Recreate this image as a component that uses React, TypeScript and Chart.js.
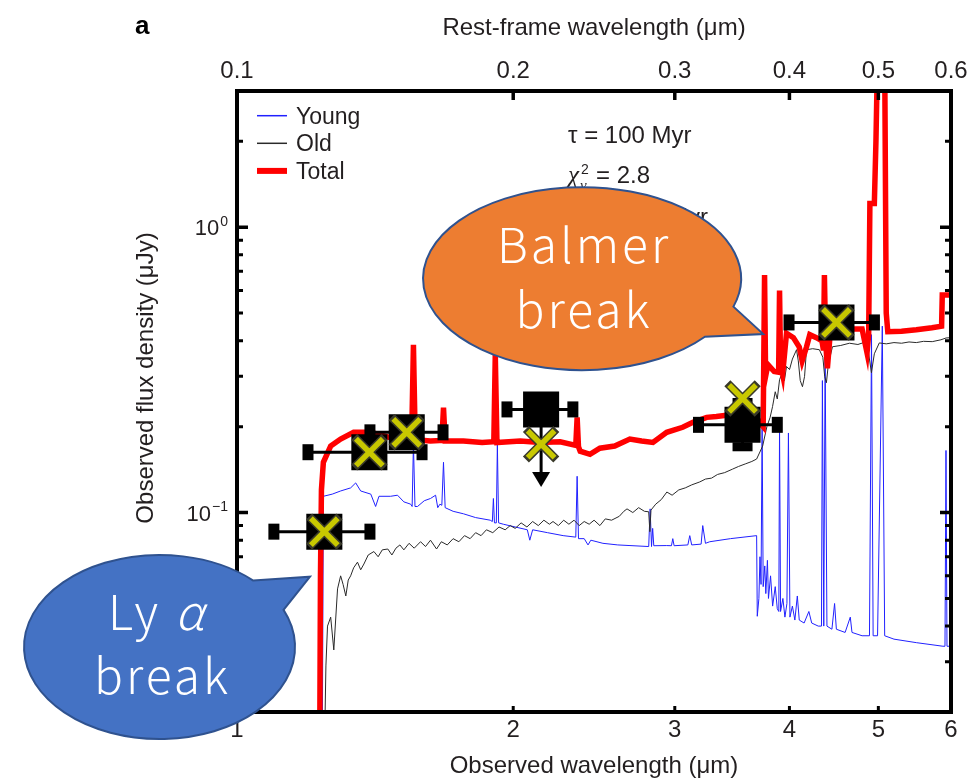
import React, { useEffect, useRef } from 'react';
import { Chart, registerables } from 'chart.js';

Chart.register(...registerables);

const SANS = "'Liberation Sans', Arial, Helvetica, sans-serif";
const SERIF = "'Liberation Serif', 'Times New Roman', serif";
const JP = "'Noto Sans CJK JP', 'Noto Sans', sans-serif";
const INK = '#231f20';

// ---- axes ----
const xTickValues = [1, 2, 3, 4, 5, 6];
const restTickValues = [0.1, 0.2, 0.3, 0.4, 0.5, 0.6];
const yMajorValues = [0.1, 1];
const yMajorExponents = ['\u22121', '0'];
const yMinorValues = [0.03, 0.04, 0.05, 0.06, 0.07, 0.08, 0.09, 0.2, 0.3, 0.4, 0.5, 0.6, 0.7, 0.8, 0.9, 2];

// ---- model spectra: [observed wavelength (um), flux density (uJy)] ----
const youngSpectrum: [number, number][] = [
  [1.238, 0.010], [1.242, 0.114], [1.270, 0.116], [1.297, 0.119], [1.330, 0.122], [1.347, 0.127],
  [1.364, 0.119], [1.399, 0.116], [1.416, 0.105], [1.428, 0.114], [1.470, 0.114], [1.496, 0.115],
  [1.520, 0.109], [1.546, 0.107], [1.552, 0.105], [1.557, 0.174], [1.563, 0.105], [1.573, 0.105],
  [1.600, 0.110], [1.625, 0.112], [1.646, 0.115], [1.655, 0.104], [1.664, 0.107], [1.672, 0.106],
  [1.679, 0.150], [1.686, 0.104], [1.720, 0.101], [1.765, 0.099], [1.820, 0.096], [1.888, 0.094],
  [1.898, 0.093], [1.903, 0.112], [1.908, 0.092], [1.917, 0.092], [1.922, 0.174], [1.928, 0.092],
  [1.951, 0.091], [2.010, 0.089], [2.072, 0.087], [2.085, 0.080], [2.100, 0.087], [2.180, 0.085],
  [2.267, 0.083], [2.340, 0.082], [2.348, 0.134], [2.356, 0.081], [2.390, 0.081], [2.413, 0.077],
  [2.430, 0.080], [2.505, 0.078], [2.600, 0.077], [2.681, 0.0766], [2.810, 0.0760], [2.820, 0.103],
  [2.830, 0.0760], [2.838, 0.088], [2.846, 0.0765], [2.940, 0.0766], [2.975, 0.0765], [2.985, 0.081],
  [2.995, 0.0765], [3.100, 0.0770], [3.115, 0.083], [3.130, 0.0770], [3.205, 0.0775], [3.218, 0.090],
  [3.240, 0.0780], [3.275, 0.0790], [3.450, 0.0810], [3.684, 0.0830], [3.690, 0.0433], [3.705, 0.050],
  [3.715, 0.070], [3.725, 0.056], [3.735, 0.200], [3.745, 0.055], [3.760, 0.065], [3.770, 0.052],
  [3.785, 0.068], [3.795, 0.050], [3.815, 0.060], [3.835, 0.047], [3.860, 0.055], [3.880, 0.046],
  [3.895, 0.045], [3.902, 0.200], [3.912, 0.045], [3.935, 0.050], [3.955, 0.043], [3.975, 0.048],
  [3.990, 0.190], [4.005, 0.043], [4.030, 0.047], [4.055, 0.042], [4.080, 0.051], [4.100, 0.042],
  [4.150, 0.041], [4.200, 0.045], [4.230, 0.041], [4.300, 0.040], [4.335, 0.040], [4.345, 0.290],
  [4.360, 0.040], [4.375, 0.350], [4.395, 0.040], [4.450, 0.039], [4.480, 0.048], [4.500, 0.039],
  [4.600, 0.038], [4.660, 0.043], [4.680, 0.038], [4.800, 0.037], [4.890, 0.037], [4.915, 0.420],
  [4.935, 0.037], [4.990, 0.037], [5.050, 0.450], [5.080, 0.037], [5.200, 0.036], [5.500, 0.035],
  [5.880, 0.034], [5.910, 0.034], [5.925, 0.165], [5.940, 0.034], [6.000, 0.034],
];

const oldSpectrum: [number, number][] = [
  [1.243, 0.010], [1.250, 0.029], [1.255, 0.040], [1.265, 0.043], [1.275, 0.033], [1.287, 0.054],
  [1.297, 0.060], [1.305, 0.056], [1.314, 0.051], [1.322, 0.058], [1.330, 0.060], [1.340, 0.064],
  [1.353, 0.067], [1.364, 0.063], [1.375, 0.066], [1.390, 0.071], [1.410, 0.073], [1.425, 0.070],
  [1.440, 0.074], [1.460, 0.0745], [1.475, 0.071], [1.490, 0.075], [1.505, 0.077], [1.520, 0.074],
  [1.540, 0.078], [1.560, 0.075], [1.585, 0.079], [1.605, 0.076], [1.625, 0.080], [1.650, 0.0745],
  [1.670, 0.079], [1.695, 0.077], [1.720, 0.081], [1.745, 0.079], [1.770, 0.083], [1.795, 0.081],
  [1.820, 0.085], [1.845, 0.083], [1.870, 0.087], [1.900, 0.085], [1.930, 0.089], [1.960, 0.087],
  [1.985, 0.090], [2.010, 0.088], [2.040, 0.092], [2.070, 0.089], [2.100, 0.093], [2.130, 0.090],
  [2.160, 0.094], [2.190, 0.091], [2.210, 0.093], [2.240, 0.090], [2.270, 0.094], [2.300, 0.091],
  [2.330, 0.094], [2.360, 0.090], [2.390, 0.093], [2.420, 0.091], [2.450, 0.094], [2.486, 0.090],
  [2.520, 0.095], [2.560, 0.094], [2.610, 0.097], [2.640, 0.101], [2.661, 0.103], [2.700, 0.100],
  [2.740, 0.104], [2.780, 0.101], [2.810, 0.1006], [2.818, 0.0857], [2.826, 0.102], [2.860, 0.107],
  [2.900, 0.111], [2.941, 0.118], [2.980, 0.115], [3.030, 0.120], [3.080, 0.122], [3.130, 0.125],
  [3.194, 0.128], [3.240, 0.131], [3.290, 0.132], [3.340, 0.136], [3.400, 0.138], [3.469, 0.142],
  [3.520, 0.145], [3.580, 0.148], [3.640, 0.151], [3.684, 0.154], [3.740, 0.171], [3.780, 0.200],
  [3.810, 0.215], [3.834, 0.235], [3.860, 0.265], [3.880, 0.250], [3.902, 0.292], [3.930, 0.310],
  [3.950, 0.290], [3.971, 0.325], [4.001, 0.317], [4.030, 0.345], [4.072, 0.372], [4.090, 0.340],
  [4.110, 0.290], [4.133, 0.276], [4.155, 0.300], [4.175, 0.372], [4.240, 0.375], [4.312, 0.372],
  [4.350, 0.350], [4.370, 0.300], [4.389, 0.285], [4.410, 0.330], [4.456, 0.381], [4.550, 0.385],
  [4.650, 0.392], [4.750, 0.388], [4.852, 0.397], [4.880, 0.360], [4.914, 0.309], [4.950, 0.360],
  [5.012, 0.393], [5.100, 0.390], [5.200, 0.394], [5.300, 0.392], [5.400, 0.396], [5.500, 0.394],
  [5.600, 0.398], [5.724, 0.397], [5.850, 0.403], [5.927, 0.409], [6.000, 0.410],
];

const totalSpectrum: [number, number][] = [
  [1.230, 0.010], [1.233, 0.060], [1.236, 0.120], [1.242, 0.150], [1.265, 0.171], [1.297, 0.181],
  [1.340, 0.191], [1.399, 0.191], [1.460, 0.184], [1.520, 0.180], [1.550, 0.181], [1.557, 0.387],
  [1.564, 0.180], [1.625, 0.178], [1.672, 0.179], [1.679, 0.233], [1.686, 0.178], [1.765, 0.178],
  [1.850, 0.176], [1.905, 0.177], [1.912, 0.357], [1.920, 0.176], [2.036, 0.178], [2.140, 0.176],
  [2.250, 0.177], [2.340, 0.172], [2.348, 0.2155], [2.356, 0.170], [2.366, 0.164], [2.425, 0.160],
  [2.486, 0.168], [2.580, 0.171], [2.680, 0.181], [2.760, 0.178], [2.840, 0.176], [2.940, 0.191],
  [3.060, 0.199], [3.140, 0.207], [3.250, 0.2155], [3.330, 0.217], [3.470, 0.2207], [3.660, 0.221],
  [3.720, 0.205], [3.745, 0.200], [3.758, 0.680], [3.768, 0.300], [3.790, 0.330], [3.850, 0.312],
  [3.893, 0.310], [3.902, 0.600], [3.912, 0.330], [3.932, 0.305], [3.971, 0.425], [4.040, 0.410],
  [4.100, 0.380], [4.130, 0.340], [4.175, 0.380], [4.210, 0.420], [4.280, 0.410], [4.340, 0.400],
  [4.357, 0.370], [4.367, 0.680], [4.380, 0.400], [4.400, 0.320], [4.430, 0.420], [4.500, 0.440],
  [4.650, 0.440], [4.800, 0.440], [4.860, 0.363], [4.880, 0.420], [4.895, 1.210], [4.950, 1.210],
  [4.970, 2.000], [4.990, 4.000], [5.080, 4.000], [5.100, 0.500], [5.120, 0.430], [5.300, 0.432],
  [5.500, 0.437], [5.720, 0.444], [5.860, 0.450], [5.870, 0.578], [6.000, 0.578],
];

// ---- photometry ----
const bandCenter = [1.245, 1.394, 1.531, 2.145, 3.556, 4.501];
const bandLow = [1.097, 1.195, 1.396, 1.969, 3.184, 3.996];
const bandHigh = [1.396, 1.591, 1.677, 2.323, 3.880, 4.951];
const observedFlux = [0.0857, 0.1627, 0.191, 0.2298, 0.2029, 0.4636];
const observedErrLow: (number | null)[] = [null, null, null, null, 0.170, null];
const observedErrHigh: (number | null)[] = [null, null, null, null, 0.243, null];
const upperLimitTip: (number | null)[] = [null, null, null, 0.123, null, null];
const modelFlux = [0.0857, 0.1627, 0.191, 0.1735, 0.251, 0.4636];

// ---- callouts (anchored in data space: [wavelength, flux]) ----
const balmerCallout = { center: [2.377, 0.660], tip: [3.746, 0.422], rx: 159, ry: 91.5, wedge: [17.8, 39.4], fill: '#ED7D31' };
const lyaCallout = { center: [0.8233, 0.0338], tip: [1.201, 0.0596], rx: 135.5, ry: 92, wedge: [-46.2, -23.75], fill: '#4472C4' };

const toPts = (arr: [number, number][]) => arr.map(([x, y]) => ({ x, y }));

const decorPlugin = {
  id: 'decor',
  afterDatasetDraw(chart: any, args: any) {
    if (args.index !== 2) return;
    const { ctx } = chart;
    const xs = chart.scales.x;
    const ys = chart.scales.y;
    ctx.save();
    ctx.strokeStyle = '#000';
    ctx.fillStyle = '#000';
    bandCenter.forEach((c, i) => {
      const y = ys.getPixelForValue(observedFlux[i]);
      const x1 = xs.getPixelForValue(bandLow[i]);
      const x2 = xs.getPixelForValue(bandHigh[i]);
      const xc = xs.getPixelForValue(c);
      ctx.lineWidth = 3;
      ctx.beginPath();
      ctx.moveTo(x1, y);
      ctx.lineTo(x2, y);
      ctx.stroke();
      ctx.fillRect(x1 - 5.5, y - 8, 11, 16);
      ctx.fillRect(x2 - 5.5, y - 8, 11, 16);
      const lo = observedErrLow[i];
      const hi = observedErrHigh[i];
      if (lo != null && hi != null) {
        const yl = ys.getPixelForValue(lo);
        const yh = ys.getPixelForValue(hi);
        ctx.beginPath();
        ctx.moveTo(xc, yl);
        ctx.lineTo(xc, yh);
        ctx.stroke();
        ctx.fillRect(xc - 10, yl - 4.5, 20, 9);
        ctx.fillRect(xc - 10, yh - 4.5, 20, 9);
      }
      const tip = upperLimitTip[i];
      if (tip != null) {
        const yt = ys.getPixelForValue(tip);
        ctx.beginPath();
        ctx.moveTo(xc, y);
        ctx.lineTo(xc, yt - 10);
        ctx.stroke();
        ctx.beginPath();
        ctx.moveTo(xc - 9, yt - 15);
        ctx.lineTo(xc + 9, yt - 15);
        ctx.lineTo(xc, yt);
        ctx.closePath();
        ctx.fill();
      }
    });
    ctx.restore();
  },
  afterDraw(chart: any) {
    const { ctx, chartArea: ca } = chart;
    const xs = chart.scales.x;
    const x2s = chart.scales.x2;
    const ys = chart.scales.y;
    ctx.save();

    // frame
    ctx.strokeStyle = '#000';
    ctx.lineWidth = 4;
    ctx.strokeRect(ca.left, ca.top, ca.right - ca.left, ca.bottom - ca.top);

    // y ticks (inward, both sides)
    const yTick = (v: number, len: number, w: number) => {
      const p = ys.getPixelForValue(v);
      ctx.lineWidth = w;
      ctx.beginPath();
      ctx.moveTo(ca.left, p);
      ctx.lineTo(ca.left + len, p);
      ctx.moveTo(ca.right, p);
      ctx.lineTo(ca.right - len, p);
      ctx.stroke();
    };
    yMajorValues.forEach((v) => yTick(v, 11, 3.5));
    yMinorValues.forEach((v) => yTick(v, 6, 3));

    // x ticks
    xTickValues.slice(1, -1).forEach((v) => {
      const p = xs.getPixelForValue(v);
      ctx.lineWidth = 3;
      ctx.beginPath();
      ctx.moveTo(p, ca.bottom);
      ctx.lineTo(p, ca.bottom - 6);
      ctx.stroke();
    });
    restTickValues.slice(1, -1).forEach((v) => {
      const p = x2s.getPixelForValue(v);
      ctx.lineWidth = 3.5;
      ctx.beginPath();
      ctx.moveTo(p, ca.top);
      ctx.lineTo(p, ca.top + 9);
      ctx.stroke();
    });

    // y tick labels 10^n
    ctx.fillStyle = INK;
    ctx.textBaseline = 'alphabetic';
    ctx.textAlign = 'left';
    yMajorValues.forEach((v, i) => {
      const p = ys.getPixelForValue(v);
      const exp = yMajorExponents[i];
      ctx.font = `14px ${SANS}`;
      const we = ctx.measureText(exp).width;
      ctx.font = `22px ${SANS}`;
      const wb = ctx.measureText('10').width;
      const end = ca.left - 9;
      ctx.fillText('10', end - we - wb - 1, p + 8);
      ctx.font = `14px ${SANS}`;
      ctx.fillText(exp, end - we, p - 1.5);
    });

    // y title
    ctx.save();
    ctx.translate(ca.left - 91, ca.top + 287);
    ctx.rotate(-Math.PI / 2);
    ctx.textAlign = 'center';
    ctx.textBaseline = 'middle';
    ctx.font = `24px ${SANS}`;
    ctx.fillText('Observed flux density (\u03bcJy)', 0, 0);
    ctx.restore();

    // panel letter
    ctx.font = `bold 26px ${SANS}`;
    ctx.fillStyle = '#000';
    ctx.fillText('a', 135, 34);

    // legend (from datasets)
    const ds = chart.data.datasets;
    const legendWidths = [1.5, 1.5, 6];
    [0, 1, 2].forEach((k) => {
      const ly = ca.top + 24.7 + k * 27.6;
      ctx.strokeStyle = ds[k].borderColor;
      ctx.lineWidth = legendWidths[k];
      ctx.beginPath();
      ctx.moveTo(ca.left + 20, ly);
      ctx.lineTo(ca.left + 50, ly);
      ctx.stroke();
      ctx.fillStyle = INK;
      ctx.font = `23px ${SANS}`;
      ctx.textAlign = 'left';
      ctx.fillText(ds[k].label, ca.left + 59, ly + 8);
    });

    // fit parameters
    const tx = ca.left + 331;
    ctx.fillStyle = INK;
    ctx.font = `24px ${SANS}`;
    ctx.fillText('\u03c4 = 100 Myr', tx, ca.top + 52);
    ctx.font = `italic 25px ${SERIF}`;
    ctx.fillText('\u03c7', tx, ca.top + 92);
    const wc = ctx.measureText('\u03c7').width;
    ctx.font = `14px ${SANS}`;
    ctx.fillText('2', tx + wc + 2, ca.top + 83);
    ctx.font = `italic 15px ${SERIF}`;
    ctx.fillText('\u03bd', tx + wc + 1, ca.top + 99);
    ctx.font = `24px ${SANS}`;
    ctx.fillText('= 2.8', tx + wc + 17, ca.top + 92);
    ctx.textAlign = 'right';
    ctx.fillText('Age = 290 Myr', ca.left + 471, ca.top + 134);

    // callouts
    const drawCallout = (c: any) => {
      const cx = xs.getPixelForValue(c.center[0]);
      const cy = ys.getPixelForValue(c.center[1]);
      const tX = xs.getPixelForValue(c.tip[0]);
      const tY = ys.getPixelForValue(c.tip[1]);
      const a1 = (c.wedge[1] * Math.PI) / 180;
      const a2 = ((c.wedge[0] + 360) * Math.PI) / 180;
      ctx.beginPath();
      ctx.ellipse(cx, cy, c.rx, c.ry, 0, a1, a2, false);
      ctx.lineTo(tX, tY);
      ctx.closePath();
      ctx.fillStyle = c.fill;
      ctx.fill();
      ctx.lineWidth = 2;
      ctx.strokeStyle = '#2f528f';
      ctx.stroke();
      return [cx, cy];
    };
    const [bx, by] = drawCallout(balmerCallout);
    ctx.fillStyle = '#fff';
    ctx.textAlign = 'center';
    ctx.textBaseline = 'alphabetic';
    (ctx as any).letterSpacing = '3px';
    ctx.font = `300 48px ${JP}`;
    ctx.fillText('Balmer', bx + 2, by - 15.4);
    ctx.fillText('break', bx + 2, by + 49.6);

    const [lx, lyc] = drawCallout(lyaCallout);
    ctx.fillStyle = '#fff';
    ctx.textAlign = 'left';
    ctx.font = `300 48px ${JP}`;
    ctx.fillText('Ly', lx - 51.5, lyc - 17);
    ctx.font = `italic 300 48px ${JP}`;
    ctx.fillText('\u03b1', lx + 15.5, lyc - 17);
    ctx.textAlign = 'center';
    ctx.font = `300 48px ${JP}`;
    ctx.fillText('break', lx + 3, lyc + 47);
    (ctx as any).letterSpacing = '0px';

    ctx.restore();
  },
};

export default function App() {
  const ref = useRef<HTMLCanvasElement>(null);
  useEffect(() => {
    document.body.style.margin = '0';
    document.body.style.overflow = 'hidden';
    const tickFont = { family: SANS, size: 24 };
    const titleFont = { family: SANS, size: 24 };
    const fixH = (h: number) => (s: any) => {
      s.height = h;
      s.paddingLeft = 0;
      s.paddingRight = 0;
    };
    const chart = new Chart(ref.current as HTMLCanvasElement, {
      type: 'scatter',
      data: {
        datasets: [
          { label: 'Young', data: toPts(youngSpectrum), showLine: true, borderColor: '#2121ff', borderWidth: 1, pointRadius: 0, order: 10, clip: 0 } as any,
          { label: 'Old', data: toPts(oldSpectrum), showLine: true, borderColor: '#2a2a2a', borderWidth: 1, pointRadius: 0, order: 9, clip: 0 },
          { label: 'Total', data: toPts(totalSpectrum), showLine: true, borderColor: '#ff0000', borderWidth: 5.5, pointRadius: 0, order: 8, clip: 0 },
          {
            label: 'Observed',
            data: bandCenter.map((x, i) => ({ x, y: observedFlux[i] })),
            pointStyle: 'rect', pointRadius: 25.5, pointBackgroundColor: '#000', pointBorderWidth: 0, borderWidth: 0, order: 3,
          },
          {
            label: 'Model outline',
            data: bandCenter.map((x, i) => ({ x, y: modelFlux[i] })),
            pointStyle: 'crossRot', pointRadius: 21.5, pointBackgroundColor: 'transparent', pointBorderColor: '#3a3a2a', pointBorderWidth: 8.5, borderWidth: 8.5, order: 2,
          },
          {
            label: 'Model',
            data: bandCenter.map((x, i) => ({ x, y: modelFlux[i] })),
            pointStyle: 'crossRot', pointRadius: 19, pointBackgroundColor: 'transparent', pointBorderColor: '#c8c800', pointBorderWidth: 5.5, borderWidth: 5.5, order: 1,
          },
        ],
      },
      options: {
        responsive: false,
        animation: false,
        devicePixelRatio: 1,
        events: [],
        layout: { autoPadding: false, padding: { left: 0, right: 18, top: 0, bottom: 0 } },
        plugins: { legend: { display: false }, tooltip: { enabled: false } },
        scales: {
          x: {
            type: 'logarithmic', position: 'bottom', min: 1, max: 6,
            afterBuildTicks: (s: any) => { s.ticks = xTickValues.map((v) => ({ value: v })); },
            ticks: { callback: (v: any) => String(v), font: tickFont, color: INK, padding: 4, maxRotation: 0, autoSkip: false },
            grid: { display: false, drawTicks: false },
            border: { display: false },
            title: { display: true, text: 'Observed wavelength (\u03bcm)', font: titleFont, color: INK, padding: { top: 0, bottom: -3 } },
            afterFit: fixH(66),
          },
          x2: {
            type: 'logarithmic', position: 'top', min: 0.1, max: 0.6,
            afterBuildTicks: (s: any) => { s.ticks = restTickValues.map((v) => ({ value: v })); },
            ticks: { callback: (v: any) => Number(v).toFixed(1), font: tickFont, color: INK, padding: 5, maxRotation: 0, autoSkip: false },
            grid: { display: false, drawTicks: false },
            border: { display: false },
            title: { display: true, text: 'Rest-frame wavelength (\u03bcm)', font: titleFont, color: INK, padding: { top: 14, bottom: 0 } },
            afterFit: fixH(91),
          },
          y: {
            type: 'logarithmic', position: 'left', min: 0.02, max: 3,
            ticks: { display: false },
            grid: { display: false, drawTicks: false },
            border: { display: false },
            title: { display: false },
            afterFit: (s: any) => { s.width = 237; },
          },
        },
      } as any,
      plugins: [decorPlugin],
    });
    return () => chart.destroy();
  }, []);
  return (
    <div style={{ width: 969, height: 778 }}>
      <canvas ref={ref} width={969} height={778} style={{ display: 'block' }} />
    </div>
  );
}
